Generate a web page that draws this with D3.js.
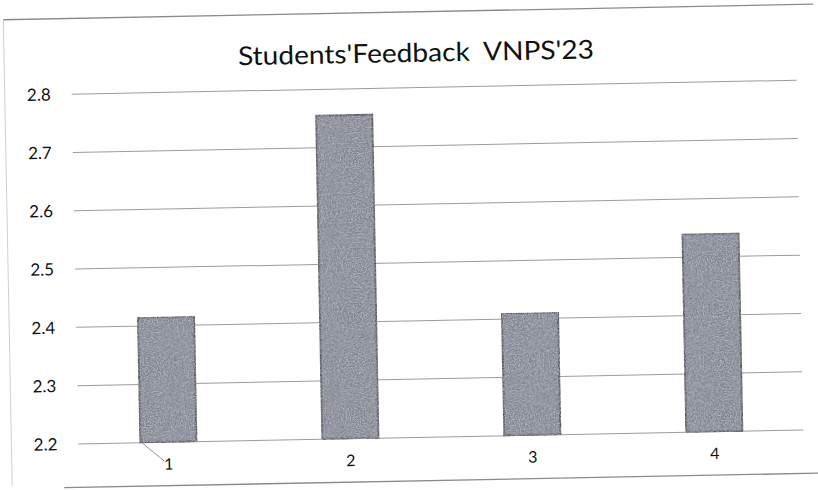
<!DOCTYPE html>
<html>
<head>
<meta charset="utf-8">
<script src="https://cdn.jsdelivr.net/npm/d3@7"></script>
<style>
  html, body { margin: 0; padding: 0; background: #fff; }
  svg { display: block; }
</style>
</head>
<body>
<svg id="chart" width="818" height="490"></svg>
<script>
const categories = ["1", "2", "3", "4"];
const values = [2.415, 2.755, 2.41, 2.54];
const yTicks = [2.2, 2.3, 2.4, 2.5, 2.6, 2.7, 2.8];
const title = "Students'Feedback  VNPS'23";

const svg = d3.select("#chart");
const root = svg.append("g").attr("transform", "rotate(-1.1, 409, 262)");

// outer frame (partial, as scanned)
root.append("line").attr("x1", 8).attr("y1", 12).attr("x2", 818).attr("y2", 12)
  .attr("stroke", "#8a8a8a").attr("stroke-width", 1.3);
root.append("line").attr("x1", 8).attr("y1", 12).attr("x2", 8).attr("y2", 478)
  .attr("stroke", "#d0d0d0").attr("stroke-width", 1);
root.append("line").attr("x1", 60).attr("y1", 481).attr("x2", 818).attr("y2", 481)
  .attr("stroke", "#8a8a8a").attr("stroke-width", 1.3);

const x = d3.scaleBand().domain(categories).range([74, 802])
  .paddingInner(0.69).paddingOuter(0.345);
const y = d3.scaleLinear().domain([2.2, 2.8]).range([437.6, 87.7]);

// gridlines
root.append("g").selectAll("line").data(yTicks).join("line")
  .attr("x1", 75).attr("x2", 800)
  .attr("y1", d => y(d)).attr("y2", d => y(d))
  .attr("stroke", "#9c9c9c").attr("stroke-width", 1);

// y axis labels
const yAxis = d3.axisLeft(y).tickValues(yTicks).tickSize(0).tickPadding(0)
  .tickFormat(d3.format(".1f"));
const ya = root.append("g").attr("transform", "translate(54,0)").call(yAxis);
ya.select(".domain").remove();
ya.selectAll("text").attr("font-family", "Lato, 'Open Sans', sans-serif")
  .attr("font-size", 17).attr("fill", "#111");

// texture
const defs = svg.append("defs");
const f = defs.append("filter").attr("id", "grain").attr("x", 0).attr("y", 0)
  .attr("width", 1).attr("height", 1);
f.append("feTurbulence").attr("type", "fractalNoise").attr("baseFrequency", 0.8)
  .attr("numOctaves", 2).attr("seed", 5).attr("result", "n");
f.append("feColorMatrix").attr("in", "n").attr("type", "matrix")
  .attr("values", "0 0 0 0 0.74  0 0 0 0 0.77  0 0 0 0 0.88  1.2 0 0 0 -0.45").attr("result", "c");
f.append("feComposite").attr("in", "c").attr("in2", "SourceGraphic").attr("operator", "in").attr("result", "t");
const m = f.append("feMerge");
m.append("feMergeNode").attr("in", "SourceGraphic");
m.append("feMergeNode").attr("in", "t");

// bars
root.append("g").selectAll("rect").data(values).join("rect")
  .attr("x", (d, i) => x(categories[i]))
  .attr("width", x.bandwidth())
  .attr("y", d => y(d))
  .attr("height", d => y(2.2) - y(d))
  .attr("fill", "#80838c")
  .attr("stroke", "#4a4a4e").attr("stroke-width", 2)
  .attr("filter", "url(#grain)");

// x labels
const xAxis = d3.axisBottom(x).tickSize(0).tickPadding(0);
const xa = root.append("g").attr("transform", "translate(0,465)").call(xAxis);
xa.select(".domain").remove();
xa.selectAll("text").attr("font-family", "Lato, 'Open Sans', sans-serif")
  .attr("font-size", 16).attr("fill", "#111").attr("dy", "0");

// small scan leader line near category 1
root.append("path")
  .attr("d", `M${x("1")},${y(2.2) - 6} L${x("1") + 4},${y(2.2) + 2} L${x("1") + 24},${y(2.2) + 19}`)
  .attr("fill", "none").attr("stroke", "#777").attr("stroke-width", 0.8);

// title
root.append("text").attr("x", 420).attr("y", 62).attr("text-anchor", "middle")
  .attr("xml:space", "preserve").style("white-space", "pre")
  .attr("font-family", "Lato, 'Open Sans', sans-serif").attr("font-size", 26)
  .attr("textLength", 356).attr("lengthAdjust", "spacingAndGlyphs")
  .attr("fill", "#111").text(title);
</script>
</body>
</html>
